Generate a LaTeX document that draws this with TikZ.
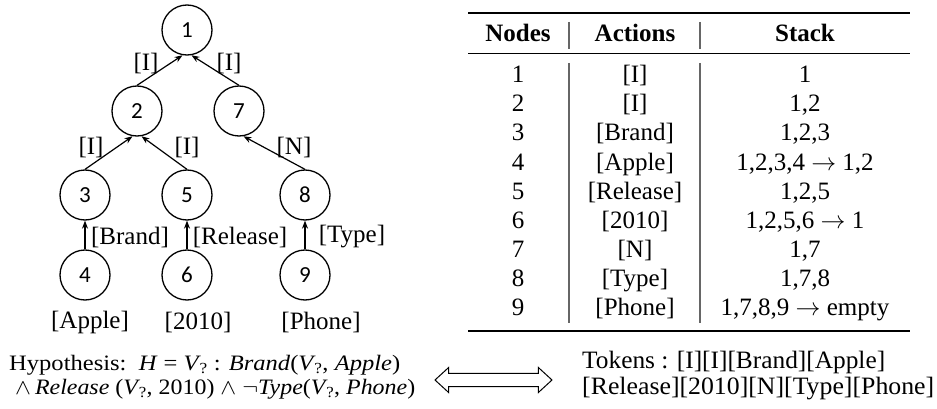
\documentclass[tikz,border=0pt]{standalone}
\usepackage{fontspec}
\setmainfont{Liberation Serif}
\newfontfamily\circfont{Carlito}
\usetikzlibrary{arrows.meta,shapes.arrows}
\newcommand\hv{\textit{V}\kern-1.5pt\textsubscript{?}}
\begin{document}
\begin{tikzpicture}[x=1pt,y=-1pt,
  font=\fontsize{25}{30}\selectfont,
  tnode/.style={circle,draw,line width=1.3pt,minimum size=50pt,inner sep=0pt,font=\circfont\fontsize{23}{23}\selectfont},
  edge/.style={line width=1.2pt,-{Stealth[length=8pt,width=6pt]}},
  lab/.style={inner sep=0pt,anchor=center},
  cell/.style={inner sep=0pt,anchor=base},
  sep/.style={draw=black!60,line width=1.2pt},
  btext/.style={inner sep=0pt,anchor=base west},
]
\useasboundingbox (0,0) rectangle (937,409);
% tree
\node[tnode] (t1) at (187,30) {1};
\node[tnode] (t2) at (137,111) {2};
\node[tnode] (t7) at (239,111) {7};
\node[tnode] (t3) at (85,195) {3};
\node[tnode] (t5) at (187,195) {5};
\node[tnode] (t8) at (305,195) {8};
\node[tnode] (t4) at (85,275) {4};
\node[tnode] (t6) at (187,275) {6};
\node[tnode] (t9) at (305,275) {9};
\draw[edge] (t2.north) -- (t1.-100);
\draw[edge] (t7.north) -- (t1.-80);
\draw[edge] (t3.north) -- (t2.-100);
\draw[edge] (t5.north) -- (t2.-80);
\draw[edge] (t8.north) -- (t7.-80);
\draw[edge] (t4.north) -- (t3.south);
\draw[edge] (t6.north) -- (t5.south);
\draw[edge] (t9.north) -- (t8.south);
\node[lab] (l21) at (146,64) {[I]};
\node[lab] (l71) at (229,64) {[I]};
\node[lab] (l32) at (91,147) {[I]};
\node[lab] (l52) at (187,147) {[I]};
\node[lab] (l87) at (294,147) {[N]};
\node[lab] (l43) at (130,237) {[Brand]};
\node[lab] (l65) at (240,237) {[Release]};
\node[lab] (l98) at (352,237) {[Type]};
\node[lab] (w4) at (90,322) {[Apple]};
\node[lab] (w6) at (198,322) {[2010]};
\node[lab] (w9) at (321,322) {[Phone]};
% table
\draw[line width=1.6pt] (468,13) -- (910,13);
\draw[line width=1pt] (468,54) -- (910,54);
\draw[line width=1.6pt] (468,331) -- (910,331);
\draw[sep] (569,22) -- (569,49);
\draw[sep] (700,22) -- (700,49);
\draw[sep] (569,63) -- (569,323);
\draw[sep] (700,63) -- (700,323);
\node[cell] (hn) at (518,42) {\textbf{Nodes}};
\node[cell] (ha) at (635,42) {\textbf{Actions}};
\node[cell] (hs) at (805,42) {\textbf{Stack}};
\foreach \i/\a/\s in {1/{[I]}/{1},2/{[I]}/{1,2},3/{[Brand]}/{1,2,3},4/{[Apple]}/{1,2,3,4 $\rightarrow$ 1,2},5/{[Release]}/{1,2,5},6/{[2010]}/{1,2,5,6 $\rightarrow$ 1},7/{[N]}/{1,7},8/{[Type]}/{1,7,8},9/{[Phone]}/{1,7,8,9 $\rightarrow$ empty}}{
  \node[cell] (n\i) at (518,83+29*\i-29) {\i};
  \node[cell] (a\i) at (635,83+29*\i-29) {\a};
  \node[cell] (s\i) at (805,83+29*\i-29) {\s};
}
% bottom
\node[btext] (hyp1) at (9,370) {\resizebox{391pt}{0.88\height}{Hypothesis:\ \ \textit{H} = \hv\ : \textit{Brand}(\hv, \textit{Apple})}};
\node[btext] (hyp2) at (15,394) {\resizebox{400pt}{0.88\height}{$\wedge$\,\textit{Release} (\hv, 2010) $\wedge$ $\neg$\textit{Type}(\hv, \textit{Phone})}};
\node[double arrow,draw,line width=1pt,fill=white,minimum width=24pt,minimum height=117pt,inner sep=6.2pt,double arrow head extend=5.8pt,double arrow tip angle=85] (eq) at (493.5,380) {};
\node[btext] (tok1) at (582,368) {\resizebox{303pt}{\height}{Tokens : [I][I][Brand][Apple]}};
\node[btext] (tok2) at (582,394) {\resizebox{352pt}{\height}{[Release][2010][N][Type][Phone]}};
\end{tikzpicture}
\end{document}
